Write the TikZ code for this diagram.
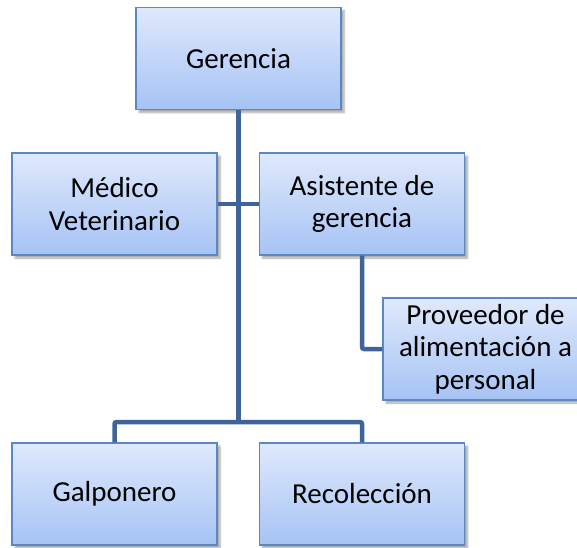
\documentclass[tikz,border=0pt]{standalone}
\usepackage{fontspec}
\setmainfont{Carlito}
\usetikzlibrary{shadows.blur}
\definecolor{boxtop}{HTML}{DFE9FC}
\definecolor{boxbot}{HTML}{A6C3F5}
\definecolor{boxline}{HTML}{5A88C4}
\definecolor{conn}{HTML}{40649A}
\begin{document}
\begin{tikzpicture}[x=1pt,y=-1pt,
  orgbox/.style={draw=boxline, line width=1.4pt, top color=boxtop, bottom color=boxbot,
    minimum width=205pt, minimum height=102pt, inner sep=2pt, align=center,
    font=\fontsize{29}{32.5}\selectfont,
    blur shadow={shadow xshift=3pt, shadow yshift=-3pt, shadow blur steps=6, shadow opacity=35}},
  link/.style={draw=conn, line width=4.5pt, rounded corners=2pt}]
\useasboundingbox (0,0) rectangle (577,547);
\node[orgbox] (g) at (238.5,58.5) {Gerencia};
\node[orgbox] (m) at (114.5,204) {Médico\\Veterinario};
\node[orgbox] (a) at (362,204) {Asistente de\\gerencia};
\node[orgbox] (p) at (485.5,349) {Proveedor de\\alimentación a\\personal};
\node[orgbox] (gal) at (114.5,494) {Galponero};
\node[orgbox] (rec) at (362,494) {Recolección};
\coordinate (bus) at (238.5,422);
\draw[link] (g.south) -- (bus);
\draw[link] (gal.north) |- (bus) -| (rec.north);
\draw[link] (m.east) -- (a.west);
\draw[link] (a.south) |- (p.west);
\end{tikzpicture}
\end{document}
